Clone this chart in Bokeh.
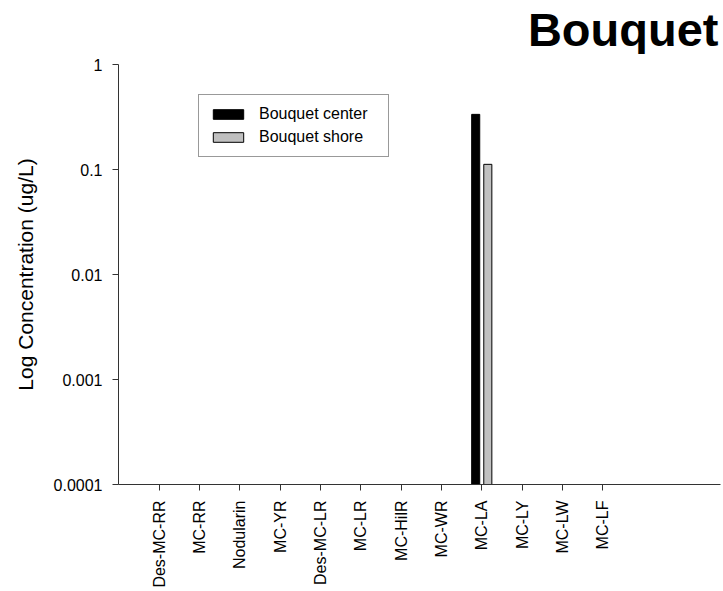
import math

from bokeh.plotting import figure
from bokeh.layouts import column
from bokeh.models import Range1d, FixedTicker, Legend, LegendItem, ColumnDataSource, Label
from bokeh.embed import file_html
from bokeh.resources import INLINE

# Toxin congeners on the x axis
categories = ["Des-MC-RR", "MC-RR", "Nodularin", "MC-YR", "Des-MC-LR", "MC-LR",
              "MC-HilR", "MC-WR", "MC-LA", "MC-LY", "MC-LW", "MC-LF"]

# Concentrations (ug/L); None = not detected
center_values = [None, None, None, None, None, None, None, None, 0.335, None, None, None]
shore_values = [None, None, None, None, None, None, None, None, 0.112, None, None, None]

y_tick_values = [0.0001, 0.001, 0.01, 0.1, 1]
y_tick_labels = ["0.0001", "0.001", "0.01", "0.1", "1"]

series_names = ["Bouquet center", "Bouquet shore"]
title_text = "Bouquet"

FONT = "Liberation Sans"
AXIS_COLOR = "#333333"
BASE = 0.0001

WIDTH = 723
HEAD_H = 54

# Heading strip above the chart (its frame lines up with the chart's frame)
head = figure(width=WIDTH, height=HEAD_H, output_backend="svg", toolbar_location=None,
              x_range=Range1d(0, 1), y_range=Range1d(0, 1),
              x_axis_location=None, y_axis_location=None, min_border=0)
head.title = None
head.outline_line_color = None
head.grid.visible = False
head.background_fill_color = "white"
head.border_fill_color = "white"
head.add_layout(Label(x=600, y=25, x_units="screen", y_units="screen", text=title_text,
                      text_align="right", text_baseline="alphabetic",
                      text_font=FONT, text_font_style="bold", text_font_size="47px",
                      text_color="black"))

# Main chart
p = figure(width=WIDTH, height=591 - HEAD_H, output_backend="svg", toolbar_location=None,
           y_axis_type="log",
           x_range=Range1d(-1.008, 13.92), y_range=Range1d(BASE, 1),
           min_border_left=118, min_border_right=3, min_border_top=10, min_border_bottom=107)
p.title = None
p.outline_line_color = None
p.xgrid.visible = False
p.ygrid.visible = False
p.background_fill_color = "white"
p.border_fill_color = "white"


def bar_source(values, offset):
    xs, tops = [], []
    for i, v in enumerate(values):
        if v is not None:
            xs.append(i + offset)
            tops.append(v)
    return ColumnDataSource(dict(x=xs, top=tops, bottom=[BASE] * len(xs)))


r_center = p.vbar(x="x", top="top", bottom="bottom", width=0.2,
                  source=bar_source(center_values, -0.15),
                  fill_color="black", line_color="black", line_width=1)
r_shore = p.vbar(x="x", top="top", bottom="bottom", width=0.2,
                 source=bar_source(shore_values, 0.15),
                 fill_color="#c0c0c0", line_color="black", line_width=1)

# Axes
xa = p.xaxis[0]
xa.ticker = FixedTicker(ticks=list(range(len(categories))))
xa.major_label_overrides = {i: c for i, c in enumerate(categories)}
xa.major_label_orientation = math.pi / 2
xa.minor_tick_line_color = None
xa.major_tick_in = 0
xa.major_tick_out = 6
xa.major_label_standoff = 10

ya = p.yaxis[0]
ya.ticker = FixedTicker(ticks=y_tick_values)
ya.major_label_overrides = {v: s for v, s in zip(y_tick_values, y_tick_labels)}
ya.minor_tick_line_color = None
ya.major_tick_in = 0
ya.major_tick_out = 6
ya.major_label_standoff = 10
ya.axis_label = "Log Concentration (ug/L)"
ya.axis_label_standoff = 14
ya.axis_label_text_font = FONT
ya.axis_label_text_font_size = "21px"
ya.axis_label_text_font_style = "normal"
ya.axis_label_text_color = "black"

for ax in (xa, ya):
    ax.axis_line_color = AXIS_COLOR
    ax.major_tick_line_color = AXIS_COLOR
    ax.major_label_text_font = FONT
    ax.major_label_text_font_size = "16px"
    ax.major_label_text_color = "black"

# Legend
legend = Legend(items=[LegendItem(label=series_names[0], renderers=[r_center]),
                       LegendItem(label=series_names[1], renderers=[r_shore])],
                location=(80, 327))
legend.label_text_font = FONT
legend.label_text_font_size = "16px"
legend.label_text_color = "black"
legend.glyph_width = 38
legend.glyph_height = 12
legend.label_height = 12
legend.label_width = 119
legend.label_standoff = 12
legend.padding = 10
legend.spacing = 5
legend.margin = 0
legend.border_line_color = AXIS_COLOR
legend.border_line_width = 1
legend.background_fill_alpha = 1
p.add_layout(legend, "center")

layout = column(head, p, spacing=0)

open("out.html", "w").write(file_html(layout, INLINE))
